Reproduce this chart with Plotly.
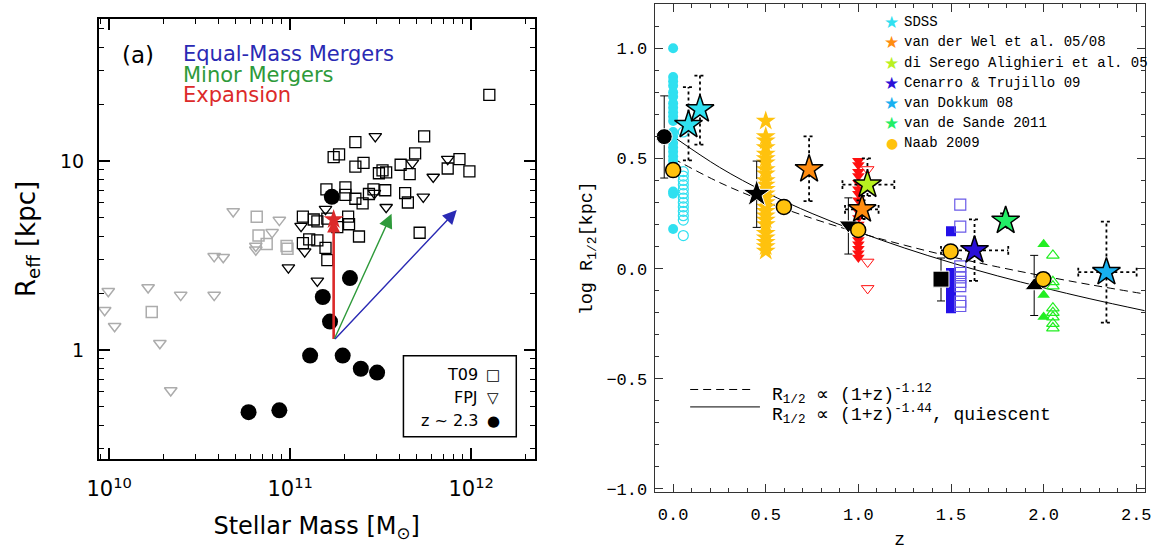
import plotly.graph_objects as go

# ================= LEFT PANEL DATA (log10 values) =================
t09_logm = [12.10, 11.74, 11.36, 11.24, 11.27, 11.405, 11.36, 11.69, 11.61, 11.66, 11.51, 11.49,
            11.935, 11.87, 11.99, 11.20, 11.305, 11.305, 11.36, 11.40, 11.435, 11.46, 11.525,
            11.635, 11.65, 11.07, 11.15, 11.205, 11.26, 11.32, 11.325, 11.07, 11.105, 11.15,
            11.195, 11.205, 11.38, 11.715, 11.13, 11.53]
t09_logr = [1.35, 1.13, 1.10, 1.02, 1.035, 0.99, 0.97, 1.04, 0.98, 0.93, 0.95, 0.935,
            1.01, 0.96, 0.945, 0.85, 0.86, 0.82, 0.80, 0.775, 0.825, 0.85, 0.845,
            0.83, 0.78, 0.705, 0.68, 0.695, 0.65, 0.705, 0.665, 0.565, 0.585, 0.58,
            0.54, 0.475, 0.60, 0.62, 0.69, 0.94]
fpj_logm = [11.47, 11.675, 11.87, 11.79, 11.735, 11.53, 11.195, 11.06, 11.08, 10.99, 11.15, 11.465]
fpj_logr = [1.13, 0.99, 1.01, 0.915, 0.81, 0.755, 0.745, 0.655, 0.52, 0.435, 0.365, 0.83]
fpj_low_logm = [10.685, 10.94, 10.90, 10.81, 10.58, 10.63, 10.215, 10.395, 10.58, 9.995,
                9.975, 10.03, 10.28, 10.34, 10.81]
fpj_low_logr = [0.733, 0.687, 0.622, 0.55, 0.495, 0.49, 0.33, 0.29, 0.29, 0.31,
                0.21, 0.125, 0.035, -0.215, 0.53]
t09_low_logm = [10.815, 10.825, 10.87, 10.985, 10.235, 10.98]
t09_low_logr = [0.705, 0.605, 0.56, 0.535, 0.20, 0.55]
z23_logm = [10.77, 10.94, 11.11, 11.29, 11.39, 11.48, 11.18, 11.33, 11.22, 11.23]
z23_logr = [-0.33, -0.32, -0.03, -0.03, -0.10, -0.12, 0.28, 0.38, 0.15, 0.81]

# growth tracks: common start, end points (log10 mass, log10 radius)
track_start = (11.24, 0.05)
track_names = ["Expansion", "Minor Mergers", "Equal-Mass Mergers"]
track_end_logm = [11.24, 11.56, 11.92]
track_end_logr = [0.69, 0.72, 0.74]
track_colors = ["#dc2a2a", "#2e9a3a", "#2a2ab4"]
track_widths = [2.6, 1.4, 1.4]

mass_ticks = [1e10, 1e11, 1e12]
mass_ticktext = ["10<sup>10</sup>", "10<sup>11</sup>", "10<sup>12</sup>"]
reff_ticks = [1, 10]
reff_ticktext = ["1", "10"]

# ================= RIGHT PANEL DATA =================
sdss_z = 0.0
sdss_fill_y = [1.00, 0.87, 0.85, 0.83, 0.80, 0.78, 0.75, 0.73, 0.71, 0.69, 0.67, 0.62, 0.60,
               0.57, 0.55, 0.53, 0.51, 0.49, 0.47, 0.35, 0.34, 0.18]
sdss_open_z = 0.055
sdss_open_y = [0.62, 0.44, 0.42, 0.40, 0.38, 0.36, 0.34, 0.32, 0.30, 0.28, 0.26, 0.24, 0.22, 0.15]
gold_col_z = 0.5
gold_col_y = [0.67, 0.60, 0.58, 0.55, 0.52, 0.50, 0.48, 0.45, 0.43, 0.40, 0.38, 0.36, 0.34,
              0.32, 0.30, 0.28, 0.26, 0.24, 0.22, 0.20, 0.16, 0.14, 0.12, 0.10, 0.08]
red_fill_z = 1.0
red_fill_y = [0.49, 0.47, 0.44, 0.42, 0.39, 0.36, 0.34, 0.31, 0.28, 0.26, 0.23, 0.20, 0.17,
              0.15, 0.13, 0.11, 0.09, 0.07, 0.05]
red_open_z = 1.05
red_open_y = [0.45, 0.03, -0.09]
blue_fill_z = 1.5
blue_fill_y = [0.17, -0.02, -0.04, -0.06, -0.08, -0.10, -0.12, -0.14, -0.16, -0.18]
blue_open_z = 1.55
blue_open_y = [0.29, 0.19, 0.01, -0.02, -0.04, -0.06, -0.08, -0.15, -0.17]
green_fill_z = 2.0
green_fill_y = [0.11, -0.12, -0.22]
green_open_z = 2.05
green_open_y = [0.06, -0.06, -0.08, -0.18, -0.20, -0.22, -0.25, -0.27]

# stars with dotted error bars: color, z, y, zlo, zhi, ylo, yhi
star_colors = ["#30e0f0", "#30e0f0", "#ff8c10", "#ff8c10", "#b8f020", "#2a10d8", "#18b0f0", "#22ee66"]
star_z = [0.083, 0.145, 0.734, 1.02, 1.049, 1.627, 2.339, 1.795]
star_y = [0.652, 0.723, 0.451, 0.269, 0.381, 0.083, -0.016, 0.217]
star_zlo = [None, None, None, 0.928, 0.914, 1.446, 2.187, None]
star_zhi = [None, None, None, 1.109, 1.194, 1.809, 2.502, None]
star_ylo = [0.491, 0.563, 0.306, 0.225, 0.33, -0.056, -0.245, 0.185]
star_yhi = [0.824, 0.876, 0.600, 0.310, 0.50, 0.223, 0.213, 0.250]

# black reference points with error bars
blk_z = [-0.048, 0.451, 0.946, 1.446, 1.949]
blk_y = [0.599, 0.339, 0.198, -0.048, -0.078]
blk_lo = [0.411, 0.187, 0.066, -0.147, -0.213]
blk_hi = [0.784, 0.488, 0.321, 0.048, 0.060]
blk_symbols = ["circle", "star", "triangle-down", "square", "triangle-up"]
blk_sizes = [16, 21, 16, 16, 16]

# Naab 2009 simulation points
naab_z = [0.0, 0.598, 0.999, 1.498, 1.998]
naab_y = [0.447, 0.280, 0.175, 0.078, -0.048]

# fit curves
curve_z = [0.0, 0.25, 0.5, 0.75, 1.0, 1.25, 1.5, 1.75, 2.0, 2.25, 2.55]
curve_all_y = [0.50, 0.391, 0.303, 0.228, 0.163, 0.106, 0.054, 0.008, -0.034, -0.073, -0.116]
curve_q_y = [0.60, 0.460, 0.346, 0.250, 0.167, 0.093, 0.027, -0.033, -0.087, -0.137, -0.192]

legend_labels = ["SDSS", "van der Wel et al. 05/08", "di Serego Alighieri et al. 05",
                 "Cenarro & Trujillo 09", "van Dokkum 08", "van de Sande 2011", "Naab 2009"]
legend_colors = ["#30e0f0", "#ff8c10", "#b8f020", "#2a10d8", "#18b0f0", "#22ee66", "#ffc20e"]
legend_glyphs = ["★", "★", "★", "★", "★", "★", "●"]

# ================= FIGURE =================
fig = go.Figure()
L = dict(xaxis="x", yaxis="y", showlegend=False, hoverinfo="skip")
R = dict(xaxis="x2", yaxis="y2", showlegend=False, hoverinfo="skip")
GRAY = "#acacac"

def p10(a):
    return [10 ** v for v in a]

fig.add_trace(go.Scatter(x=p10(fpj_low_logm), y=p10(fpj_low_logr), mode="markers",
                         marker=dict(symbol="triangle-down-open", size=11, color=GRAY, opacity=1,
                                     line=dict(width=1.5, color=GRAY)), **L))
fig.add_trace(go.Scatter(x=p10(t09_low_logm), y=p10(t09_low_logr), mode="markers",
                         marker=dict(symbol="square-open", size=11, color=GRAY, opacity=1,
                                     line=dict(width=1.5, color=GRAY)), **L))
fig.add_trace(go.Scatter(x=p10(t09_logm), y=p10(t09_logr), mode="markers",
                         marker=dict(symbol="square-open", size=11, color="black", opacity=1,
                                     line=dict(width=1.3, color="black")), **L))
fig.add_trace(go.Scatter(x=p10(fpj_logm), y=p10(fpj_logr), mode="markers",
                         marker=dict(symbol="triangle-down-open", size=11, color="black", opacity=1,
                                     line=dict(width=1.3, color="black")), **L))
fig.add_trace(go.Scatter(x=p10(z23_logm), y=p10(z23_logr), mode="markers",
                         marker=dict(symbol="circle", size=16, color="black", opacity=1), **L))
fig.add_trace(go.Scatter(x=[10 ** track_end_logm[0]], y=[10 ** track_end_logr[0]], mode="markers",
                         marker=dict(symbol="star", size=15, color=track_colors[0], opacity=1), **L))

annotations = []
shapes = []
for name, ex, ey, col, w in zip(track_names, track_end_logm, track_end_logr, track_colors, track_widths):
    annotations.append(dict(x=ex, y=ey, ax=track_start[0], ay=track_start[1], xref="x", yref="y",
                            axref="x", ayref="y", showarrow=True, arrowhead=2,
                            arrowsize=2.0 if w < 2 else 1.0, arrowwidth=w, arrowcolor=col, text=""))

# ---------------- right panel ----------------
fig.add_trace(go.Scatter(x=curve_z, y=curve_all_y, mode="lines",
                         line=dict(color="black", width=1, dash="8px,5px", shape="spline"), **R))
fig.add_trace(go.Scatter(x=curve_z, y=curve_q_y, mode="lines",
                         line=dict(color="black", width=1, shape="spline"), **R))

fig.add_trace(go.Scatter(x=[sdss_z] * len(sdss_fill_y), y=sdss_fill_y, mode="markers",
                         marker=dict(symbol="circle", size=10, color="#30e0f0", opacity=1), **R))
fig.add_trace(go.Scatter(x=[sdss_open_z] * len(sdss_open_y), y=sdss_open_y, mode="markers",
                         marker=dict(symbol="circle-open", size=10, color="#30e0f0", opacity=1,
                                     line=dict(width=1.2)), **R))
fig.add_trace(go.Scatter(x=[gold_col_z] * len(gold_col_y), y=gold_col_y, mode="markers",
                         marker=dict(symbol="star", size=15, color="#ffc20e", opacity=1), **R))
fig.add_trace(go.Scatter(x=[red_fill_z] * len(red_fill_y), y=red_fill_y, mode="markers",
                         marker=dict(symbol="triangle-down", size=11, color="#ff1010", opacity=1), **R))
fig.add_trace(go.Scatter(x=[red_open_z] * len(red_open_y), y=red_open_y, mode="markers",
                         marker=dict(symbol="triangle-down-open", size=11, color="#ff1010", opacity=1,
                                     line=dict(width=1)), **R))
fig.add_trace(go.Scatter(x=[blue_fill_z] * len(blue_fill_y), y=blue_fill_y, mode="markers",
                         marker=dict(symbol="square", size=10, color="#2410e8", opacity=1), **R))
fig.add_trace(go.Scatter(x=[blue_open_z] * len(blue_open_y), y=blue_open_y, mode="markers",
                         marker=dict(symbol="square-open", size=11, color="#6a5ae8", opacity=1,
                                     line=dict(width=1.2)), **R))
fig.add_trace(go.Scatter(x=[green_fill_z] * len(green_fill_y), y=green_fill_y, mode="markers",
                         marker=dict(symbol="triangle-up", size=11, color="#22ee22", opacity=1), **R))
fig.add_trace(go.Scatter(x=[green_open_z] * len(green_open_y), y=green_open_y, mode="markers",
                         marker=dict(symbol="triangle-up-open", size=11, color="#22ee22", opacity=1,
                                     line=dict(width=1.2)), **R))

# dotted error bars built from the star arrays
CAPZ, CAPY = 0.03, 0.02
ex, ey = [], []
for z, y, zl, zh, yl, yh in zip(star_z, star_y, star_zlo, star_zhi, star_ylo, star_yhi):
    if yl is not None:
        ex += [z, z, None, z - CAPZ, z + CAPZ, None, z - CAPZ, z + CAPZ, None]
        ey += [yl, yh, None, yl, yl, None, yh, yh, None]
    if zl is not None:
        ex += [zl, zh, None, zl, zl, None, zh, zh, None]
        ey += [y, y, None, y - CAPY, y + CAPY, None, y - CAPY, y + CAPY, None]
fig.add_trace(go.Scatter(x=ex, y=ey, mode="lines", line=dict(color="black", width=1.8, dash="dot"), **R))

fig.add_trace(go.Scatter(x=blk_z, y=blk_y, mode="markers",
                         error_y=dict(type="data", symmetric=False,
                                      array=[h - v for h, v in zip(blk_hi, blk_y)],
                                      arrayminus=[v - l for l, v in zip(blk_lo, blk_y)],
                                      color="black", thickness=1, width=4),
                         marker=dict(symbol=blk_symbols, size=blk_sizes, color="black", opacity=1), **R))
fig.add_trace(go.Scatter(x=star_z, y=star_y, mode="markers",
                         marker=dict(symbol="star", size=21, color=star_colors, opacity=1,
                                     line=dict(color="black", width=1.5)), **R))
fig.add_trace(go.Scatter(x=naab_z, y=naab_y, mode="markers",
                         marker=dict(symbol="circle", size=15, color="#ffc20e", opacity=1,
                                     line=dict(color="black", width=1.5)), **R))

# ---------------- texts ----------------
SANS = "DejaVu Sans"
MONO = "Liberation Mono"
annotations.append(dict(xref="x domain", yref="y domain", x=0.0903, y=0.917, text="(a)", showarrow=False,
                        font=dict(family=SANS, size=23, color="black"), xanchor="center", yanchor="middle"))
for i, (name, col) in enumerate(zip(track_names[::-1], track_colors[::-1])):
    annotations.append(dict(xref="x domain", yref="y domain", x=0.188, y=0.9195 - 0.0468 * i, text=name,
                            showarrow=False, font=dict(family=SANS, size=21, color=col),
                            xanchor="left", yanchor="middle"))
# left legend box
shapes.append(dict(type="rect", xref="x domain", yref="y domain", x0=0.699, x1=0.958, y0=0.0508, y1=0.235,
                   line=dict(color="black", width=1.5), fillcolor="white", layer="above"))
for i, (lab, sym) in enumerate(zip(["T09", "FPJ", "z ~ 2.3"], ["□", "▽", "●"])):
    yy = 0.192 - 0.0525 * i
    annotations.append(dict(xref="x domain", yref="y domain", x=0.874, y=yy, text=lab, showarrow=False,
                            font=dict(family=SANS, size=16, color="black"), xanchor="right", yanchor="middle"))
    annotations.append(dict(xref="x domain", yref="y domain", x=0.905, y=yy, text=sym, showarrow=False,
                            font=dict(family=SANS, size=15, color="black"), xanchor="center", yanchor="middle"))

# right legend (top)
for i, (lab, col, g) in enumerate(zip(legend_labels, legend_colors, legend_glyphs)):
    yy = 0.9628 - 0.0412 * i
    annotations.append(dict(xref="x2 domain", yref="y2 domain", x=0.484, y=yy, text=g, showarrow=False,
                            font=dict(family=SANS, size=17 if g == "★" else 14, color=col),
                            xanchor="center", yanchor="middle"))
    annotations.append(dict(xref="x2 domain", yref="y2 domain", x=0.5056, y=yy, text=lab, showarrow=False,
                            font=dict(family=MONO, size=14, color="black"), xanchor="left", yanchor="middle"))

# right legend (bottom, fit lines)
shapes.append(dict(type="line", xref="x2 domain", yref="y2 domain", x0=0.0726, x1=0.200, y0=0.2104, y1=0.2104,
                   line=dict(color="black", width=1, dash="8px,5px")))
shapes.append(dict(type="line", xref="x2 domain", yref="y2 domain", x0=0.0726, x1=0.215, y0=0.1747, y1=0.1747,
                   line=dict(color="black", width=1)))
annotations.append(dict(xref="x2 domain", yref="y2 domain", x=0.236, y=0.200,
                        text="R<sub>1/2</sub> ∝ (1+z)<sup>-1.12</sup>", showarrow=False,
                        font=dict(family=MONO, size=18, color="black"), xanchor="left", yanchor="middle"))
annotations.append(dict(xref="x2 domain", yref="y2 domain", x=0.236, y=0.160,
                        text="R<sub>1/2</sub> ∝ (1+z)<sup>-1.44</sup>, quiescent", showarrow=False,
                        font=dict(family=MONO, size=18, color="black"), xanchor="left", yanchor="middle"))

def minor_vals(lo_dec, hi_dec):
    out = []
    for d in range(lo_dec, hi_dec + 1):
        for m in range(2, 10):
            out.append(m * 10 ** d)
    return out

fig.update_layout(
    width=1162, height=552, margin=dict(l=0, r=0, t=0, b=0),
    paper_bgcolor="white", plot_bgcolor="white",
    annotations=annotations, shapes=shapes, showlegend=False,
    xaxis=dict(domain=[0.0760, 0.4572], type="log", range=[9.943, 12.35], anchor="y",
               showline=True, linewidth=2, linecolor="black", mirror="allticks",
               ticks="inside", ticklen=11, tickwidth=1.5, tickcolor="black",
               tickvals=mass_ticks, ticktext=mass_ticktext, showgrid=False, zeroline=False,
               tickfont=dict(family=SANS, size=21, color="black"), ticklabelstandoff=10,
               minor=dict(tickvals=minor_vals(9, 12), ticklen=5, tickwidth=1.2, tickcolor="black",
                          ticks="inside", showgrid=False),
               title=dict(text="Stellar Mass [M<sub>⊙</sub>]", font=dict(family=SANS, size=24, color="black"),
                          standoff=17)),
    yaxis=dict(domain=[0.1558, 0.9656], type="log", range=[-0.579, 1.753], anchor="x",
               showline=True, linewidth=2, linecolor="black", mirror="allticks",
               ticks="inside", ticklen=11, tickwidth=1.5, tickcolor="black",
               tickvals=reff_ticks, ticktext=reff_ticktext, showgrid=False, zeroline=False,
               tickfont=dict(family=SANS, size=19, color="black"), ticklabelstandoff=9,
               minor=dict(tickvals=minor_vals(-1, 1), ticklen=5, tickwidth=1.2, tickcolor="black",
                          ticks="inside", showgrid=False),
               title=dict(text="R<sub>eff</sub> [kpc]", font=dict(family=SANS, size=26, color="black"),
                          standoff=17)),
    xaxis2=dict(domain=[0.5622, 0.9909], range=[-0.1, 2.545], anchor="y2",
                showline=True, linewidth=1, linecolor="#333333", mirror="allticks",
                ticks="inside", ticklen=8, tickwidth=1, tickcolor="#333333",
                dtick=0.5, tick0=0, tickformat=".1f", showgrid=False, zeroline=False,
                tickfont=dict(family=MONO, size=17, color="black"), ticklabelstandoff=6,
                minor=dict(dtick=0.1, ticklen=4, tickwidth=1, tickcolor="#333333", ticks="inside",
                           showgrid=False),
                title=dict(text="z", font=dict(family=MONO, size=18, color="black"), standoff=8)),
    yaxis2=dict(domain=[0.0953, 0.9922], range=[-1.015, 1.2], anchor="x2",
                showline=True, linewidth=1, linecolor="#333333", mirror="allticks",
                ticks="inside", ticklen=8, tickwidth=1, tickcolor="#333333",
                dtick=0.5, tick0=0, tickformat=".1f", showgrid=False, zeroline=False,
                tickfont=dict(family=MONO, size=17, color="black"), ticklabelstandoff=3,
                minor=dict(dtick=0.1, ticklen=4, tickwidth=1, tickcolor="#333333", ticks="inside",
                           showgrid=False),
                title=dict(text="log R<sub>1/2</sub>[kpc]", font=dict(family=MONO, size=18.5, color="black"),
                           standoff=8)),
)

fig.write_html("out.html", post_script="document.body.style.margin='0px';",
               config={"displayModeBar": False})
